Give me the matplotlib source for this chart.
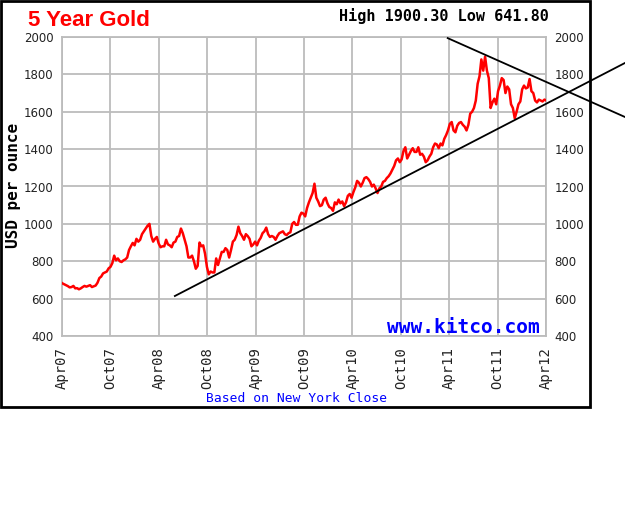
import pandas as pd
import matplotlib
matplotlib.use('Agg')
import matplotlib.pyplot as plt
from matplotlib.patches import Rectangle

# weekly closes (USD/oz), starting 2007-03-12
prices = [
    680, 684, 690, 682, 677, 672, 667, 660, 662, 668, 655, 656, 650, 655, 662, 668, 664, 668, 672, 662,
    666, 670, 685, 710, 718, 735, 740, 745, 762, 770, 790, 830, 805, 815, 800, 796, 805, 810, 820, 860,
    880, 898, 885, 920, 905, 915, 945, 960, 975, 990, 1000, 935, 905, 920, 930, 895, 875, 880, 880, 915,
    890, 885, 875, 900, 905, 930, 935, 975, 950, 915, 880, 820, 820, 830, 800, 760, 775, 900, 880, 885,
    840, 770, 730, 745, 740, 740, 815, 780, 815, 850, 850, 870,
    860, 820, 860, 905, 915, 940, 985, 950, 935, 915, 945, 935, 920, 880, 890, 905, 885, 910, 925, 950,
    960, 980, 945, 930, 935, 930, 915, 935, 950, 955, 960, 945, 940, 950, 955, 1000, 1010, 995, 995, 1040,
    1060, 1055, 1040, 1085, 1115, 1140, 1165, 1215, 1140, 1120, 1095, 1100,
    1130, 1140, 1110, 1090, 1085, 1070, 1115, 1105, 1130, 1110, 1120, 1095, 1115, 1150, 1160, 1140, 1170, 1195, 1230, 1220,
    1200, 1220, 1245, 1250, 1240, 1225, 1200, 1210, 1190, 1165, 1190, 1200, 1225, 1230, 1245, 1255, 1270, 1290, 1310, 1340,
    1350, 1330, 1345, 1390, 1410, 1350, 1370, 1390, 1405, 1385, 1385, 1410,
    1370, 1375, 1360, 1330, 1340, 1360, 1375, 1410, 1430, 1425, 1405, 1430, 1420, 1455, 1475, 1500, 1535, 1545, 1500, 1490,
    1525, 1540, 1545, 1530, 1520, 1500, 1530, 1590, 1600, 1620, 1660, 1750, 1790, 1880, 1820, 1895, 1820, 1780, 1620, 1650,
    1670, 1640, 1710, 1740, 1780, 1770, 1700, 1735, 1720, 1640, 1620, 1565,
    1600, 1640, 1655, 1720, 1740, 1725, 1730, 1775, 1710, 1700, 1660, 1650, 1665, 1660, 1655, 1665, 1660,
]
dates = pd.date_range('2007-03-12', periods=len(prices), freq='7D')

# hand-drawn trend lines (start, end)
support_x = ['2008-05-31', '2013-01-24']
support_y = [614, 1861]
resist_x = ['2011-03-27', '2013-01-24']
resist_y = [1994, 1572]

tick_dates = ['2007-04-01', '2007-10-01', '2008-04-01', '2008-10-01', '2009-04-01', '2009-10-01',
              '2010-04-01', '2010-10-01', '2011-04-01', '2011-10-01', '2012-04-01']
tick_labels = ['Apr07', 'Oct07', 'Apr08', 'Oct08', 'Apr09', 'Oct09',
               'Apr10', 'Oct10', 'Apr11', 'Oct11', 'Apr12']
y_ticks = [400, 600, 800, 1000, 1200, 1400, 1600, 1800, 2000]

W, H = 625, 509
fig = plt.figure(figsize=(W / 100, H / 100), dpi=100)
ax = fig.add_axes([62 / W, 1 - 336 / H, 484 / W, 299 / H])

grid_c = '#bcbcbc'
ax.plot(dates, prices, color='#ff0000', lw=1.8, zorder=3)
ax.plot(pd.to_datetime(support_x), support_y, color='black', lw=1.3, clip_on=False, zorder=4)
ax.plot(pd.to_datetime(resist_x), resist_y, color='black', lw=1.3, clip_on=False, zorder=4)

ax.set_xlim(pd.Timestamp('2007-04-01'), pd.Timestamp('2012-04-01'))
ax.set_ylim(400, 2000)
ax.set_xticks(pd.to_datetime(tick_dates))
ax.set_xticklabels(tick_labels, rotation=90, family='DejaVu Sans Mono', fontsize=10, color='#222222')
ax.set_yticks(y_ticks)
ax.set_yticklabels([str(v) for v in y_ticks], family='DejaVu Sans', fontsize=8.5, color='#222222')
ax.tick_params(axis='y', length=0, pad=6, labelright=True)
ax.tick_params(axis='x', length=0, pad=8)
ax.grid(True, color=grid_c, lw=1.3)
ax.set_axisbelow(True)
for s in ax.spines.values():
    s.set_color(grid_c)
    s.set_linewidth(1.3)

# outer frame
fig.patches.append(Rectangle((0.001, 1 - 407 / H), 589 / W, 407 / H - 0.001, transform=fig.transFigure,
                             fill=False, edgecolor='black', lw=2))

fig.text(28 / W, 1 - 26 / H, '5 Year Gold', color='#ff0000', fontsize=16, fontweight='bold',
         family='Liberation Sans', ha='left', va='baseline')
fig.text(444 / W, 1 - 21.5 / H, 'High 1900.30 Low 641.80', color='black', fontsize=10.9,
         fontweight='bold', family='DejaVu Sans Mono', ha='center', va='baseline')
fig.text(14 / W, 1 - 185 / H, 'USD per ounce', rotation=90, color='black', fontsize=11.5,
         fontweight='bold', family='DejaVu Sans Mono', ha='center', va='center')
fig.text(297 / W, 1 - 398 / H, 'Based on New York Close', color='#0000ff', fontsize=9.4,
         family='DejaVu Sans Mono', ha='center', va='center')
fig.text(463 / W, 1 - 333 / H, 'www.kitco.com', color='#0000ff', fontsize=14, fontweight='bold',
         family='DejaVu Sans Mono', ha='center', va='baseline')

fig.savefig('out.png', dpi=100)
